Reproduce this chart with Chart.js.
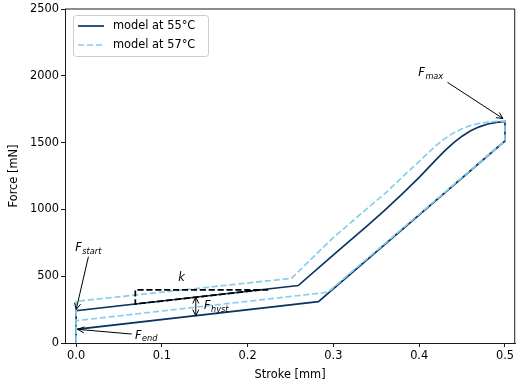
<!DOCTYPE html>
<html>
<head>
<meta charset="utf-8">
<script src="https://cdn.jsdelivr.net/npm/chart.js@4.4.1/dist/chart.umd.min.js"></script>
<style>
  html, body { margin: 0; padding: 0; background: #fff; }
  #wrap { width: 516px; height: 388px; }
</style>
</head>
<body>
<div id="wrap"><canvas id="chart" width="516" height="388"></canvas></div>
<script>
// model at 55°C: loading branch, then unloading branch
const stroke55 = [0, 0, 0.259, 0.30, 0.34, 0.36, 0.38, 0.40, 0.41, 0.42, 0.43, 0.44, 0.45, 0.46, 0.47, 0.48, 0.49, 0.5,
                  0.5, 0.2825, 0, 0];
const force55  = [0, 242, 430, 660, 880, 995, 1115, 1240, 1307, 1375, 1440, 1498, 1548, 1588, 1618, 1639, 1652, 1658,
                  1512, 310, 102, 0];

// model at 57°C
const stroke57 = [0, 0, 0.251, 0.30, 0.34, 0.36, 0.38, 0.40, 0.41, 0.42, 0.43, 0.44, 0.45, 0.46, 0.47, 0.48, 0.49, 0.5,
                  0.5, 0.2935, 0, 0];
const force57  = [0, 312, 484, 790, 1010, 1118, 1240, 1360, 1420, 1480, 1530, 1572, 1604, 1628, 1644, 1654, 1659, 1661,
                  1512, 380, 167, 0];

const xTicks = [0, 0.1, 0.2, 0.3, 0.4, 0.5];
const yTicks = [0, 500, 1000, 1500, 2000, 2500];

const navy = "#0b3561";
const sky = "#87ceeb";
const font = "DejaVu Sans";

function toPoints(xs, ys){
  return xs.map((x, i) => ({x: x, y: ys[i]}));
}

// arrow helper, open "->" head
function arrowHead(ctx, x1, y1, x2, y2){
  const a = Math.atan2(y2 - y1, x2 - x1);
  const len = 7, ang = 0.45;
  ctx.beginPath();
  ctx.moveTo(x2 - len*Math.cos(a - ang), y2 - len*Math.sin(a - ang));
  ctx.lineTo(x2, y2);
  ctx.lineTo(x2 - len*Math.cos(a + ang), y2 - len*Math.sin(a + ang));
  ctx.stroke();
}
function arrow(ctx, x1, y1, x2, y2, both){
  ctx.beginPath();
  ctx.moveTo(x1, y1);
  ctx.lineTo(x2, y2);
  ctx.stroke();
  arrowHead(ctx, x1, y1, x2, y2);
  if(both) arrowHead(ctx, x2, y2, x1, y1);
}
// italic F with italic subscript, left aligned, vertically centred at y
function fLabel(ctx, sub, x, y){
  ctx.textAlign = "left";
  ctx.textBaseline = "alphabetic";
  ctx.font = "italic 11.4px '" + font + "'";
  const base = y + 4;
  ctx.fillText("F", x, base);
  const w = ctx.measureText("F").width;
  if(sub){
    ctx.font = "italic 8.2px '" + font + "'";
    ctx.fillText(sub, x + w + 0.5, base + 2.5);
  }
}

const annotations = {
  id: "annotations",
  afterDatasetsDraw(chart){
    const ctx = chart.ctx;
    const xs = chart.scales.x, ys = chart.scales.y;
    const px = v => xs.getPixelForValue(v);
    const py = v => ys.getPixelForValue(v);
    ctx.save();

    // slope triangle k
    ctx.strokeStyle = "#000";
    ctx.lineWidth = 1.7;
    ctx.setLineDash([6.2, 2.7]);
    ctx.beginPath();
    ctx.moveTo(px(0.224), py(398));
    ctx.lineTo(px(0.069), py(398));
    ctx.lineTo(px(0.069), py(292));
    ctx.lineTo(px(0.215), py(397));
    ctx.stroke();
    ctx.setLineDash([]);

    ctx.fillStyle = "#000";
    ctx.lineWidth = 1;
    ctx.font = "italic 11.4px '" + font + "'";
    ctx.textAlign = "center";
    ctx.textBaseline = "middle";
    ctx.fillText("k", px(0.123), py(487));

    // hysteresis
    arrow(ctx, px(0.1395), py(343), px(0.1395), py(203), true);
    fLabel(ctx, "hyst", px(0.149), py(284));

    // start force
    arrow(ctx, px(0.0143), py(646), px(0.0), py(250), false);
    fLabel(ctx, "start", px(-0.001), py(718));

    // end force
    arrow(ctx, px(0.0648), py(67), px(0.002), py(102), false);
    fLabel(ctx, "end", px(0.0686), py(60));

    // max force
    arrow(ctx, px(0.433), py(1951), px(0.4977), py(1680), false);
    fLabel(ctx, "max", px(0.399), py(2028));

    // legend
    const lx = chart.chartArea.left + 8, ly = chart.chartArea.top + 6;
    ctx.fillStyle = "rgba(255,255,255,0.8)";
    ctx.strokeStyle = "#cccccc";
    ctx.lineWidth = 1;
    ctx.beginPath();
    ctx.roundRect(lx + 0.5, ly + 0.5, 135, 41, 3);
    ctx.fill();
    ctx.stroke();
    const items = [
      {label: "model at 55°C", color: navy, dash: []},
      {label: "model at 57°C", color: sky, dash: [6.2, 2.7]}
    ];
    items.forEach((it, i) => {
      const yy = ly + 11 + i * 19;
      ctx.strokeStyle = it.color;
      ctx.lineWidth = 1.7;
      ctx.setLineDash(it.dash);
      ctx.beginPath();
      ctx.moveTo(lx + 5, yy);
      ctx.lineTo(lx + 31, yy);
      ctx.stroke();
      ctx.setLineDash([]);
      ctx.fillStyle = "#000";
      ctx.font = "11.4px '" + font + "'";
      ctx.textAlign = "left";
      ctx.textBaseline = "middle";
      ctx.fillText(it.label, lx + 40, yy);
    });

    // top and right spines
    const a = chart.chartArea;
    ctx.strokeStyle = "#000";
    ctx.lineWidth = 0.9;
    ctx.beginPath();
    ctx.moveTo(a.left, a.top);
    ctx.lineTo(a.right - 0.5, a.top);
    ctx.lineTo(a.right - 0.5, a.bottom);
    ctx.stroke();
    ctx.restore();
  }
};

Chart.defaults.font.family = font;
Chart.defaults.font.size = 11.4;
Chart.defaults.color = "#000";

new Chart(document.getElementById("chart"), {
  type: "scatter",
  data: {
    datasets: [
      {
        label: "model at 55°C",
        data: toPoints(stroke55, force55),
        showLine: true,
        borderColor: navy,
        borderWidth: 1.7,
        pointRadius: 0,
        tension: 0,
        order: 1
      },
      {
        label: "model at 57°C",
        data: toPoints(stroke57, force57),
        showLine: true,
        borderColor: sky,
        borderWidth: 1.7,
        borderDash: [6.2, 2.7],
        pointRadius: 0,
        tension: 0,
        order: 0
      }
    ]
  },
  options: {
    responsive: false,
    animation: false,
    layout: {padding: {top: 9, right: 0, left: 0, bottom: 0}},
    plugins: {legend: {display: false}, tooltip: {enabled: false}},
    scales: {
      x: {
        type: "linear",
        min: -0.013,
        max: 0.512,
        afterBuildTicks: s => { s.ticks = xTicks.map(v => ({value: v})); },
        afterFit: s => { s.height = 45; },
        ticks: {callback: v => v.toFixed(1), padding: 2, maxRotation: 0},
        grid: {drawOnChartArea: false, drawTicks: true, tickLength: 4, color: "#000", lineWidth: 0.9},
        border: {display: true, color: "#000", width: 0.9},
        title: {display: true, text: "Stroke [mm]", padding: {top: 6, bottom: 6}}
      },
      y: {
        type: "linear",
        min: 0,
        max: 2500,
        afterBuildTicks: s => { s.ticks = yTicks.map(v => ({value: v})); },
        afterFit: s => { s.width = 65; },
        ticks: {callback: v => String(v), padding: 2},
        grid: {drawOnChartArea: false, drawTicks: true, tickLength: 4, color: "#000", lineWidth: 0.9},
        border: {display: true, color: "#000", width: 0.9},
        title: {display: true, text: "Force [mN]", padding: {top: 7, bottom: 0}}
      }
    }
  },
  plugins: [annotations]
});
</script>
</body>
</html>
